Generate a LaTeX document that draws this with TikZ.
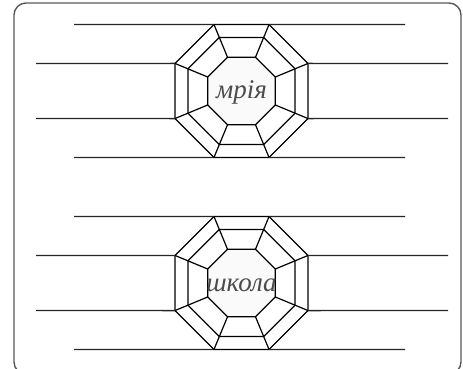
\documentclass[tikz,border=0pt]{standalone}
\usepackage{fontspec}
\setmainfont{Liberation Serif}
\newfontfamily\wordfont{Liberation Serif}
\usepackage{tikz}
\usetikzlibrary{shapes.geometric}
\tikzstyle{octa} = [regular polygon, regular polygon sides=8, draw=black, line width=1.2pt, inner sep=0pt, outer sep=0pt]
\tikzstyle{rule} = [line width=1.4pt, draw=black!85]
\tikzstyle{word} = [font=\wordfont\itshape\fontsize{27}{27}\selectfont, text=black!70, inner sep=0pt, anchor=base]
\tikzstyle{frame} = [draw=black!65, line width=1.4pt, rounded corners=12pt]

\begin{document}
\begin{tikzpicture}[x=1pt, y=-1pt]
        \useasboundingbox (0,0) rectangle (463,369);
        \clip (0,0) rectangle (463,369);
        \draw [frame] (14,3) rectangle (461,374);

        \foreach \name/\cy/\txt in {top/91/мрія, bot/283/школа} {
            % Nodes
            \node (\name-out) [octa, minimum size=144pt] at (241.5,\cy) {};
            \node (\name-mid) [octa, minimum size=116pt] at (241.5,\cy) {};
            \node (\name-in) [octa, minimum size=73pt, fill=black!2] at (241.5,\cy) {};
            \node (\name-word) [word] at (241.5,\cy+8) {\txt};

            % Spokes
            \foreach \k in {1,...,8}
                \draw [line width=1.2pt] (\name-in.corner \k) -- (\name-out.corner \k);

            % Lines
            \coordinate (\name-a) at (74,\cy-66.5);
            \coordinate (\name-b) at (405,\cy-66.5);
            \coordinate (\name-c) at (36,\cy-27.5);
            \coordinate (\name-d) at (448,\cy-27.5);
            \coordinate (\name-e) at (36,\cy+27.5);
            \coordinate (\name-f) at (448,\cy+27.5);
            \coordinate (\name-g) at (74,\cy+66.5);
            \coordinate (\name-h) at (405,\cy+66.5);
            \draw [rule] (\name-a) -- (\name-out.corner 2);
            \draw [rule] (\name-out.corner 1) -- (\name-b);
            \draw [rule] (\name-c) -- (\name-out.corner 3);
            \draw [rule] (\name-out.corner 8) -- (\name-d);
            \draw [rule] (\name-e) -- (\name-out.corner 4);
            \draw [rule] (\name-out.corner 7) -- (\name-f);
            \draw [rule] (\name-g) -- (\name-out.corner 5);
            \draw [rule] (\name-out.corner 6) -- (\name-h);
        }
    \end{tikzpicture}
\end{document}
